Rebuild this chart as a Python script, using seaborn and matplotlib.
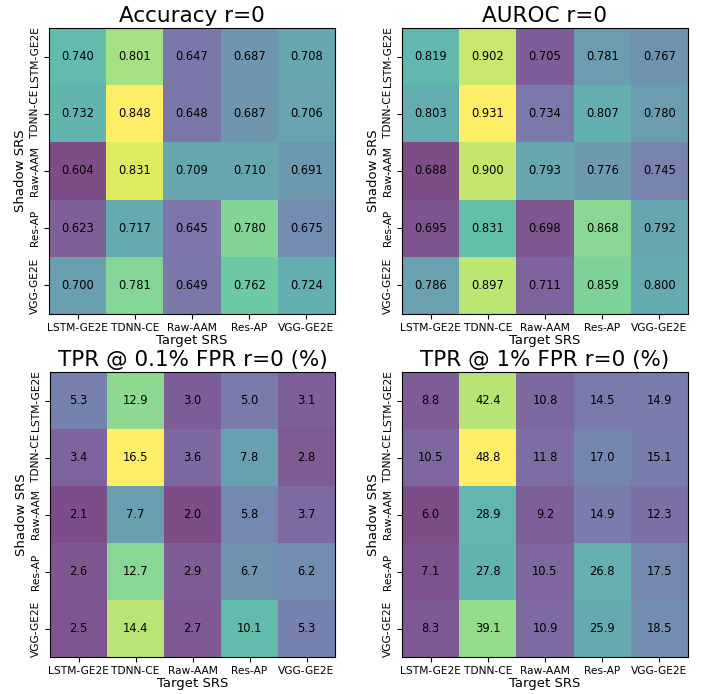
import numpy as np
import pandas as pd
import matplotlib
matplotlib.use("Agg")
import matplotlib.pyplot as plt
import seaborn as sns

models = ["LSTM-GE2E", "TDNN-CE", "Raw-AAM", "Res-AP", "VGG-GE2E"]

accuracy = [
    [0.740, 0.801, 0.647, 0.687, 0.708],
    [0.732, 0.848, 0.648, 0.687, 0.706],
    [0.604, 0.831, 0.709, 0.710, 0.691],
    [0.623, 0.717, 0.645, 0.780, 0.675],
    [0.700, 0.781, 0.649, 0.762, 0.724],
]
auroc = [
    [0.819, 0.902, 0.705, 0.781, 0.767],
    [0.803, 0.931, 0.734, 0.807, 0.780],
    [0.688, 0.900, 0.793, 0.776, 0.745],
    [0.695, 0.831, 0.698, 0.868, 0.792],
    [0.786, 0.897, 0.711, 0.859, 0.800],
]
tpr01 = [
    [5.3, 12.9, 3.0, 5.0, 3.1],
    [3.4, 16.5, 3.6, 7.8, 2.8],
    [2.1, 7.7, 2.0, 5.8, 3.7],
    [2.6, 12.7, 2.9, 6.7, 6.2],
    [2.5, 14.4, 2.7, 10.1, 5.3],
]
tpr1 = [
    [8.8, 42.4, 10.8, 14.5, 14.9],
    [10.5, 48.8, 11.8, 17.0, 15.1],
    [6.0, 28.9, 9.2, 14.9, 12.3],
    [7.1, 27.8, 10.5, 26.8, 17.5],
    [8.3, 39.1, 10.9, 25.9, 18.5],
]

titles = ["Accuracy r=0", "AUROC r=0", "TPR @ 0.1% FPR r=0 (%)", "TPR @ 1% FPR r=0 (%)"]
fmts = [".3f", ".3f", ".1f", ".1f"]
datas = [accuracy, auroc, tpr01, tpr1]

W, H = 709, 694
fig = plt.figure(figsize=(W / 100, H / 100), dpi=100)
boxes = [(49, 28, 335, 314), (402, 28, 688, 314), (50, 372, 335, 657), (402, 372, 688, 657)]

for data, title, fmt, (x0, y0, x1, y1) in zip(datas, titles, fmts, boxes):
    ax = fig.add_axes([x0 / W, 1 - y1 / H, (x1 - x0) / W, (y1 - y0) / H])
    df = pd.DataFrame(data, index=models, columns=models)
    sns.heatmap(df, ax=ax, cmap="viridis", alpha=0.7, annot=True, fmt=fmt,
                cbar=False, annot_kws={"color": "black", "fontsize": 8.3})
    for t in ax.texts:
        t.set_color("black")
    ax.set_title(title, fontsize=15.5, pad=4)
    ax.set_xlabel("Target SRS", fontsize=9.5, labelpad=1)
    ax.set_ylabel("Shadow SRS", fontsize=9.5, labelpad=2)
    ax.tick_params(axis="both", labelsize=7.7, length=3.5, pad=3)
    ax.set_xticklabels(models, rotation=0)
    ax.set_yticklabels(models, rotation=90, va="center")
    for s in ax.spines.values():
        s.set_visible(True)
        s.set_linewidth(0.8)

fig.savefig("out.png", dpi=100)
